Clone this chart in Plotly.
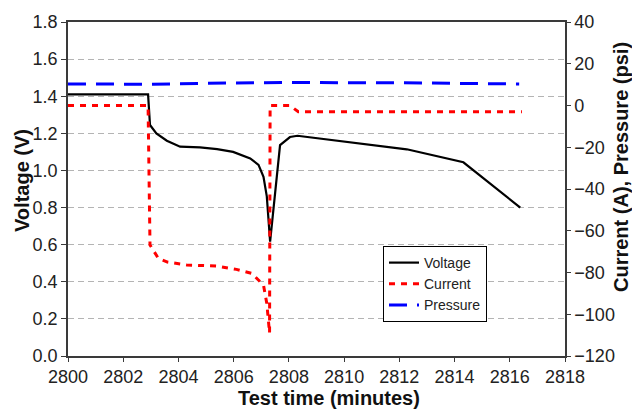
import plotly.graph_objects as go

# Cell voltage during the test (minutes, volts)
volt_time = [2800, 2802.9, 2802.97, 2803.2, 2803.58, 2804.06, 2804.78, 2805.4, 2805.98,
             2806.6, 2806.9, 2807.08, 2807.2, 2807.32, 2807.68, 2808.04, 2808.31,
             2810.3, 2812.27, 2814.32, 2816.38]
voltage = [1.41, 1.41, 1.245, 1.20, 1.16, 1.128, 1.124, 1.115, 1.10,
           1.065, 1.03, 0.966, 0.86, 0.616, 1.137, 1.18, 1.187,
           1.15, 1.114, 1.044, 0.80]

# Current (A)
curr_time = [2800, 2802.9, 2802.97, 2803.27, 2803.6, 2804.3, 2805.39, 2806.1, 2806.65,
             2807.08, 2807.2, 2807.3, 2807.32, 2808.04, 2808.34, 2816.44]
current = [0, 0, -66.8, -73.2, -75, -76.4, -76.9, -78.5, -80.4,
           -86, -94.8, -109, 0, 0, -3, -3]

# Pressure (psi)
pres_time = [2800, 2803, 2806, 2808, 2812, 2814, 2816.34]
pressure = [10.3, 10.2, 10.8, 11.0, 10.9, 10.6, 10.3]

x_ticks = list(range(2800, 2820, 2))
left_ticks = [0.0, 0.2, 0.4, 0.6, 0.8, 1.0, 1.2, 1.4, 1.6, 1.8]
right_ticks = [-120, -100, -80, -60, -40, -20, 0, 20, 40]

FONT = "Liberation Sans, Arial, sans-serif"
AXIS_COLOR = "#3a3a3a"

# plot area in pixels
W, H = 632, 416
ML, MR, MT, MB = 68, 67, 22, 60
PW, PH = W - ML - MR, H - MT - MB


def px_to_paper(px, py):
    return (px - ML) / PW, (H - MB - py) / PH


fig = go.Figure()
fig.add_trace(go.Scatter(x=volt_time, y=voltage, name="Voltage", mode="lines",
                         line=dict(color="black", width=2.2), yaxis="y"))
fig.add_trace(go.Scatter(x=curr_time, y=current, name="Current", mode="lines",
                         line=dict(color="#ff0000", width=3, dash="6px,6px"), yaxis="y2"))
fig.add_trace(go.Scatter(x=pres_time, y=pressure, name="Pressure", mode="lines",
                         line=dict(color="#0000ff", width=3, dash="18px,10px"), yaxis="y2"))

lx, ly = px_to_paper(383, 246)
fig.update_layout(
    width=W, height=H,
    margin=dict(l=ML, r=MR, t=MT, b=MB),
    paper_bgcolor="white", plot_bgcolor="white",
    font=dict(family=FONT, size=18, color="#222"),
    showlegend=True,
    legend=dict(x=lx, y=ly, xanchor="left", yanchor="top",
                bgcolor="white", bordercolor="black", borderwidth=1,
                font=dict(size=14, color="#222"), itemwidth=30,
                tracegroupgap=0),
    xaxis=dict(range=[2800, 2818], tickvals=x_ticks, ticktext=[str(t) for t in x_ticks],
               showgrid=False, zeroline=False, showline=True, linecolor=AXIS_COLOR,
               linewidth=1.5, mirror=True, ticks="outside", ticklen=4,
               tickcolor=AXIS_COLOR, tickfont=dict(size=18)),
    yaxis=dict(range=[0, 1.8], tickvals=left_ticks,
               ticktext=[f"{t:.1f}" for t in left_ticks],
               showgrid=True, gridcolor="#b4b4b4", gridwidth=1, griddash="6px,4px",
               zeroline=False, showline=True, linecolor=AXIS_COLOR, linewidth=1.5,
               ticks="outside", ticklen=5, tickcolor=AXIS_COLOR, tickfont=dict(size=18)),
    yaxis2=dict(range=[-120, 40], tickvals=right_ticks, overlaying="y", side="right",
                anchor="x", showgrid=False, zeroline=False, showline=True,
                linecolor=AXIS_COLOR, linewidth=1.5, ticks="outside", ticklen=4,
                tickcolor=AXIS_COLOR, tickfont=dict(size=18)),
    yaxis3=dict(range=[-120, 40], tickvals=right_ticks, overlaying="y", side="right",
                anchor="x", showgrid=False, zeroline=False, showline=False,
                showticklabels=False, ticks="inside", ticklen=4, tickcolor=AXIS_COLOR),
)

# Axis titles, centred on given pixel positions
titles = [
    ("<b>Test time (minutes)</b>", 329, 398, 0),
    ("<b>Voltage (V)</b>", 22, 181, -90),
    ("<b>Current (A), Pressure (psi)</b>", 621, 167, -90),
]
for text, px, py, angle in titles:
    ax, ay = px_to_paper(px, py)
    fig.add_annotation(text=text, x=ax, y=ay, xref="paper", yref="paper",
                       xanchor="center", yanchor="middle", textangle=angle,
                       showarrow=False, font=dict(size=20, color="#111"))

fig.write_html("out.html")
